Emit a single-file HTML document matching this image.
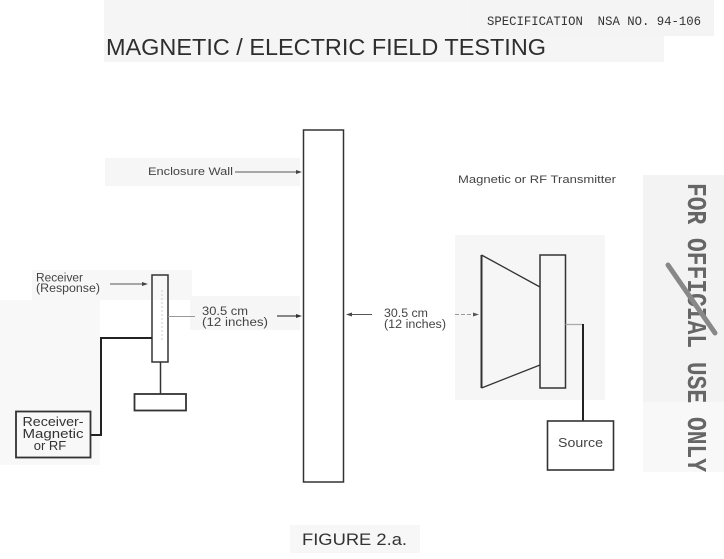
<!DOCTYPE html>
<html>
<head>
<meta charset="utf-8">
<style>
  html, body { margin: 0; padding: 0; background: #ffffff; }
  svg { display: block; }
</style>
</head>
<body>
<svg width="724" height="559" viewBox="0 0 724 559" xmlns="http://www.w3.org/2000/svg" font-family="Liberation Sans, DejaVu Sans, sans-serif">
  <rect x="0" y="0" width="724" height="559" fill="#ffffff"/>

  <!-- faint scan patches -->
  <rect x="104" y="0" width="560" height="62" fill="#f5f5f5"/>
  <rect x="470" y="0" width="244" height="36" fill="#f4f4f4"/>
  <rect x="105" y="158" width="195" height="28" fill="#f6f6f6"/>
  <rect x="32" y="270" width="160" height="30" fill="#f7f7f7"/>
  <rect x="190" y="296" width="110" height="34" fill="#f6f6f6"/>
  <rect x="0" y="300" width="100" height="165" fill="#f8f8f8"/>
  <rect x="455" y="235" width="150" height="165" fill="#f6f6f6"/>
  <rect x="643" y="175" width="81" height="227" fill="#f3f3f3"/>
  <rect x="643" y="402" width="81" height="70" fill="#f8f8f8"/>
  <rect x="290" y="525" width="130" height="28" fill="#f7f7f7"/>

  <!-- header -->
  <text x="487" y="25" style="font-family:'Liberation Mono', monospace;" font-size="12.5" fill="#333" textLength="214" lengthAdjust="spacingAndGlyphs" xml:space="preserve">SPECIFICATION  NSA NO. 94-106</text>
  <text x="106" y="55" font-size="23.5" fill="#2e2e2e" textLength="440" lengthAdjust="spacingAndGlyphs">MAGNETIC / ELECTRIC FIELD TESTING</text>

  <!-- Enclosure wall label + arrow -->
  <text x="148" y="175" font-size="11" fill="#444" textLength="85" lengthAdjust="spacingAndGlyphs">Enclosure Wall</text>
  <line x1="235" y1="172" x2="297" y2="172" stroke="#555" stroke-width="1"/>
  <polygon points="302,172 296,170 296,174" fill="#444"/>

  <!-- Wall -->
  <rect x="303.5" y="130" width="40" height="352" fill="none" stroke="#333" stroke-width="1.5"/>

  <!-- Receiver label + arrow -->
  <text x="36" y="281.5" font-size="11.5" fill="#444" textLength="47" lengthAdjust="spacingAndGlyphs">Receiver</text>
  <text x="36" y="292" font-size="11.5" fill="#444" textLength="64" lengthAdjust="spacingAndGlyphs">(Response)</text>
  <line x1="110" y1="284" x2="143" y2="284" stroke="#555" stroke-width="1"/>
  <polygon points="148,284 142,282 142,286" fill="#444"/>

  <!-- Receiver antenna -->
  <rect x="152" y="275" width="16" height="87" fill="none" stroke="#333" stroke-width="1.5"/>
  <line x1="162" y1="290" x2="162" y2="340" stroke="#ccc" stroke-width="1" stroke-dasharray="2,2"/>
  <line x1="160.5" y1="362" x2="160.5" y2="394" stroke="#333" stroke-width="1.5"/>
  <rect x="134.5" y="394" width="51.5" height="16.5" fill="none" stroke="#333" stroke-width="1.8"/>

  <!-- wire to receiver box -->
  <polyline points="152,338 101,338 101,435 91,435" fill="none" stroke="#222" stroke-width="2"/>

  <!-- Receiver box -->
  <rect x="16" y="411.5" width="74.5" height="46" fill="none" stroke="#333" stroke-width="1.8"/>
  <text x="53" y="426" font-size="13" fill="#333" text-anchor="middle" textLength="61" lengthAdjust="spacingAndGlyphs">Receiver-</text>
  <text x="53" y="438" font-size="13" fill="#333" text-anchor="middle" textLength="61" lengthAdjust="spacingAndGlyphs">Magnetic</text>
  <text x="50" y="450" font-size="13" fill="#333" text-anchor="middle">or RF</text>

  <!-- left dimension -->
  <line x1="168" y1="316.5" x2="195" y2="316.5" stroke="#999" stroke-width="1"/>
  <text x="202" y="315" font-size="11.5" fill="#444" textLength="46" lengthAdjust="spacingAndGlyphs">30.5 cm</text>
  <text x="202" y="326" font-size="11.5" fill="#444" textLength="66" lengthAdjust="spacingAndGlyphs">(12 inches)</text>
  <line x1="277" y1="316" x2="297" y2="316" stroke="#444" stroke-width="1.2"/>
  <polygon points="302,316 296,314 296,318" fill="#333"/>

  <!-- right dimension -->
  <polygon points="346,314.5 352,312.5 352,316.5" fill="#444"/>
  <line x1="351" y1="314.5" x2="372" y2="314.5" stroke="#555" stroke-width="1"/>
  <text x="384" y="317" font-size="11.5" fill="#444" textLength="44" lengthAdjust="spacingAndGlyphs">30.5 cm</text>
  <text x="384" y="328" font-size="11.5" fill="#444" textLength="62" lengthAdjust="spacingAndGlyphs">(12 inches)</text>
  <line x1="455" y1="314.5" x2="474" y2="314.5" stroke="#999" stroke-width="1" stroke-dasharray="4,2"/>
  <polygon points="479,314.5 473,312.5 473,316.5" fill="#555"/>

  <!-- Transmitter label -->
  <text x="458" y="183" font-size="11" fill="#444" textLength="158" lengthAdjust="spacingAndGlyphs">Magnetic or RF Transmitter</text>

  <!-- Transmitter horn -->
  <line x1="481.5" y1="255" x2="481.5" y2="388" stroke="#333" stroke-width="2"/>
  <line x1="481.5" y1="255" x2="540" y2="287" stroke="#333" stroke-width="1.3"/>
  <line x1="481.5" y1="388" x2="540" y2="365" stroke="#333" stroke-width="1.3"/>
  <rect x="540" y="255" width="25.5" height="133" fill="none" stroke="#333" stroke-width="1.5"/>

  <!-- wire to source -->
  <line x1="565.5" y1="324.5" x2="583" y2="324.5" stroke="#aaa" stroke-width="1.2"/>
  <line x1="583" y1="324" x2="583" y2="421" stroke="#222" stroke-width="2"/>

  <!-- Source -->
  <rect x="547.5" y="421" width="66" height="49" fill="none" stroke="#333" stroke-width="1.6"/>
  <text x="580.5" y="447" font-size="12.5" fill="#444" text-anchor="middle" textLength="45" lengthAdjust="spacingAndGlyphs">Source</text>

  <!-- FOR OFFICIAL USE ONLY stamp -->
  <text transform="translate(688,183) rotate(90)" style="font-family:'Liberation Mono', monospace;" font-weight="bold" font-size="27" fill="#666" textLength="289" lengthAdjust="spacingAndGlyphs">FOR OFFICIAL USE ONLY</text>
  <line x1="668" y1="265" x2="715" y2="333" stroke="#888" stroke-width="5" stroke-linecap="round"/>

  <!-- figure caption -->
  <text x="302" y="545" font-size="17" fill="#333" textLength="105" lengthAdjust="spacingAndGlyphs">FIGURE 2.a.</text>
</svg>
</body>
</html>
